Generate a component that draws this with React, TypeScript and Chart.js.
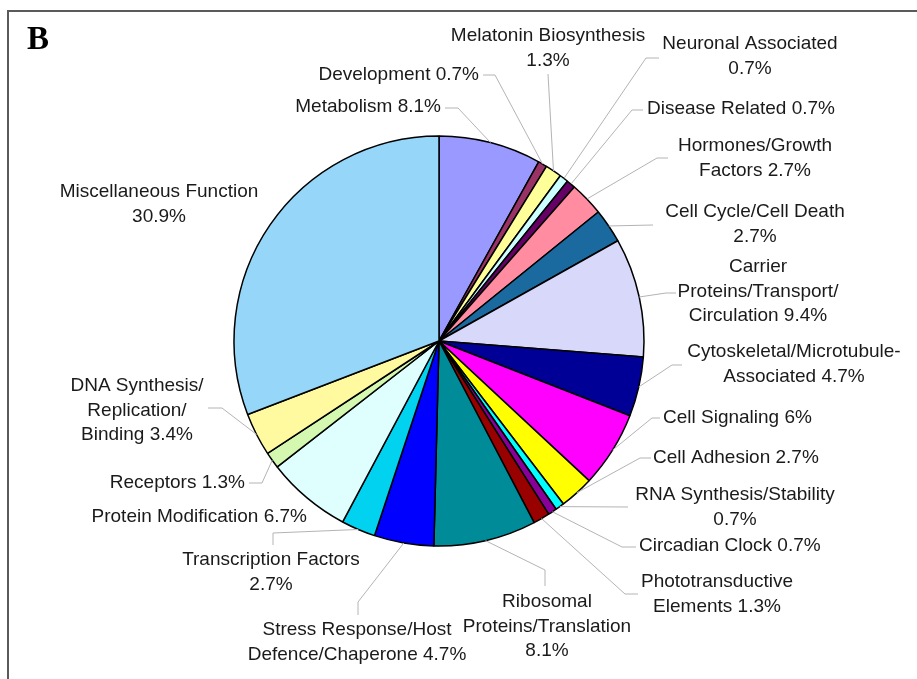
import React, { useEffect, useRef } from "react";
import { Chart, registerables } from "chart.js";

Chart.register(...registerables);

// ---- Data ----
const categories: string[] = [
  "Metabolism",
  "Development",
  "Melatonin Biosynthesis",
  "Neuronal Associated",
  "Disease Related",
  "Hormones/Growth Factors",
  "Cell Cycle/Cell Death",
  "Carrier Proteins/Transport/Circulation",
  "Cytoskeletal/Microtubule-Associated",
  "Cell Signaling",
  "Cell Adhesion",
  "RNA Synthesis/Stability",
  "Circadian Clock",
  "Phototransductive Elements",
  "Ribosomal Proteins/Translation",
  "Stress Response/Host Defence/Chaperone",
  "Transcription Factors",
  "Protein Modification",
  "Receptors",
  "DNA Synthesis/Replication/Binding",
  "Miscellaneous Function",
];

const values: number[] = [
  8.1, 0.7, 1.3, 0.7, 0.7, 2.7, 2.7, 9.4, 4.7, 6, 2.7, 0.7, 0.7, 1.3, 8.1, 4.7,
  2.7, 6.7, 1.3, 3.4, 30.9,
];

const sliceColors: string[] = [
  "#9999FF",
  "#993366",
  "#FFFF99",
  "#CCFFFF",
  "#660066",
  "#FF8CA0",
  "#1A6AA0",
  "#D8D8FA",
  "#000096",
  "#FF00FF",
  "#FFFF00",
  "#00FFFF",
  "#880099",
  "#990000",
  "#008B99",
  "#0000FF",
  "#00D2F0",
  "#DFFFFF",
  "#D4F8B0",
  "#FFFAA0",
  "#96D7F9",
];

// ---- Label layout (text placement & leader elbows) ----
type LabelLayout = {
  lines: string[];
  x: number;
  y: number;
  align: CanvasTextAlign;
  path: [number, number][];
};

const labelLayout: LabelLayout[] = [
  { lines: ["Metabolism %v"], x: 441, y: 107, align: "right", path: [[445, 108], [458, 108]] },
  { lines: ["Development %v"], x: 479, y: 75, align: "right", path: [[483, 75], [495, 75]] },
  { lines: ["Melatonin Biosynthesis", "%v"], x: 548, y: 36, align: "center", path: [[548, 74]] },
  { lines: ["Neuronal Associated", "%v"], x: 750, y: 44, align: "center", path: [[659, 58], [646, 58]] },
  { lines: ["Disease Related %v"], x: 647, y: 109, align: "left", path: [[643, 110], [632, 110]] },
  { lines: ["Hormones/Growth", "Factors %v"], x: 755, y: 146, align: "center", path: [[668, 158], [657, 158]] },
  { lines: ["Cell Cycle/Cell Death", "%v"], x: 755, y: 212, align: "center", path: [[653, 225]] },
  { lines: ["Carrier", "Proteins/Transport/", "Circulation %v"], x: 758, y: 267, align: "center", path: [[676, 293], [666, 293]] },
  { lines: ["Cytoskeletal/Microtubule-", "Associated %v"], x: 794, y: 352, align: "center", path: [[682, 365], [672, 365]] },
  { lines: ["Cell Signaling %v"], x: 663, y: 418, align: "left", path: [[660, 418], [652, 418]] },
  { lines: ["Cell Adhesion %v"], x: 653, y: 458, align: "left", path: [[651, 458], [640, 458]] },
  { lines: ["RNA Synthesis/Stability", "%v"], x: 735, y: 495, align: "center", path: [[628, 507]] },
  { lines: ["Circadian Clock %v"], x: 639, y: 546, align: "left", path: [[636, 547], [622, 547]] },
  { lines: ["Phototransductive", "Elements %v"], x: 717, y: 582, align: "center", path: [[638, 594], [625, 594]] },
  { lines: ["Ribosomal", "Proteins/Translation", "%v"], x: 547, y: 602, align: "center", path: [[545, 586], [545, 570]] },
  { lines: ["Stress Response/Host", "Defence/Chaperone %v"], x: 357, y: 630, align: "center", path: [[358, 615], [358, 602]] },
  { lines: ["Transcription Factors", "%v"], x: 271, y: 560, align: "center", path: [[273, 545], [273, 533]] },
  { lines: ["Protein Modification %v"], x: 307, y: 517, align: "right", path: [] },
  { lines: ["Receptors %v"], x: 245, y: 483, align: "right", path: [[249, 483], [262, 483]] },
  { lines: ["DNA Synthesis/", "Replication/", "Binding %v"], x: 137, y: 386, align: "center", path: [[208, 408], [222, 408]] },
  { lines: ["Miscellaneous Function", "%v"], x: 159, y: 192, align: "center", path: [] },
];

const LINE_H = 24.5;
const LABEL_FONT = "19px 'Liberation Sans', Arial, 'Helvetica', sans-serif";

const pieLabelsPlugin = {
  id: "pieLabels",
  beforeDraw(chart: any) {
    const ctx: CanvasRenderingContext2D = chart.ctx;
    ctx.save();
    ctx.fillStyle = "#ffffff";
    ctx.fillRect(0, 0, chart.width, chart.height);
    ctx.restore();
  },
  afterDraw(chart: any) {
    const ctx: CanvasRenderingContext2D = chart.ctx;
    const meta = chart.getDatasetMeta(0);
    ctx.save();

    // frame
    ctx.strokeStyle = "#5a5a5a";
    ctx.lineWidth = 2;
    ctx.strokeRect(8, 11, chart.width + 20, chart.height + 20);

    // panel letter
    ctx.fillStyle = "#000";
    ctx.font = "bold 33px 'Liberation Serif', 'DejaVu Serif', serif";
    ctx.textAlign = "left";
    ctx.textBaseline = "alphabetic";
    ctx.fillText("B", 27, 49);

    // leader lines
    ctx.strokeStyle = "#b4b4b4";
    ctx.lineWidth = 1;
    meta.data.forEach((arc: any, i: number) => {
      const L = labelLayout[i];
      if (!L || L.path.length === 0) return;
      const p = arc.getProps(["x", "y", "startAngle", "endAngle", "outerRadius"], true);
      const mid = (p.startAngle + p.endAngle) / 2;
      const ex = p.x + Math.cos(mid) * p.outerRadius;
      const ey = p.y + Math.sin(mid) * p.outerRadius;
      ctx.beginPath();
      ctx.moveTo(L.path[0][0], L.path[0][1]);
      for (let k = 1; k < L.path.length; k++) ctx.lineTo(L.path[k][0], L.path[k][1]);
      ctx.lineTo(ex, ey);
      ctx.stroke();
    });

    // label text
    ctx.fillStyle = "#1a1a1a";
    ctx.font = LABEL_FONT;
    ctx.textBaseline = "middle";
    labelLayout.forEach((L, i) => {
      ctx.textAlign = L.align;
      L.lines.forEach((line, j) => {
        const txt = line.replace("%v", `${values[i]}%`);
        ctx.fillText(txt, L.x, L.y + j * LINE_H);
      });
    });

    ctx.restore();
  },
};

export default function App() {
  const canvasRef = useRef<HTMLCanvasElement | null>(null);

  useEffect(() => {
    if (!canvasRef.current) return;
    const chart = new Chart(canvasRef.current, {
      type: "pie",
      data: {
        labels: categories,
        datasets: [
          {
            data: values,
            backgroundColor: sliceColors,
            borderColor: "#000000",
            borderWidth: 1.5,
          },
        ],
      },
      options: {
        responsive: false,
        animation: false,
        devicePixelRatio: 1,
        radius: 205,
        layout: { padding: { left: 229, right: 268, top: 131, bottom: 128 } },
        plugins: {
          legend: { display: false },
          tooltip: { enabled: false },
        },
      } as any,
      plugins: [pieLabelsPlugin],
    });
    return () => chart.destroy();
  }, []);

  return (
    <div style={{ position: "fixed", left: 0, top: 0, width: 917, height: 679, background: "#fff" }}>
      <canvas ref={canvasRef} width={917} height={679} />
    </div>
  );
}
